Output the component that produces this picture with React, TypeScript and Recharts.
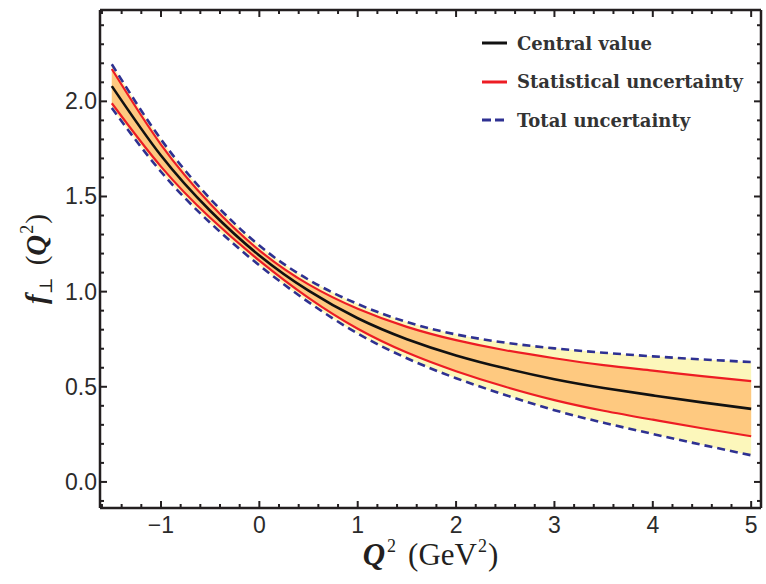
import { ComposedChart, Area, Line, XAxis, YAxis, Legend } from 'recharts'

// f_perp(Q^2) with statistical and total uncertainty bands
const q2 = [-1.5, -1.0, -0.5, 0, 0.5, 1, 1.5, 2, 2.5, 3, 3.5, 4, 4.5, 5]
const central = [2.08, 1.715, 1.425, 1.19, 1.005, 0.86, 0.75, 0.665, 0.597, 0.54, 0.494, 0.455, 0.418, 0.384]
const statLow = [1.99, 1.657, 1.388, 1.163, 0.967, 0.805, 0.68, 0.582, 0.5, 0.43, 0.374, 0.327, 0.282, 0.24]
const statHigh = [2.17, 1.773, 1.462, 1.217, 1.038, 0.91, 0.815, 0.745, 0.692, 0.65, 0.614, 0.585, 0.556, 0.53]
const totalLow = [1.965, 1.63, 1.362, 1.138, 0.945, 0.78, 0.65, 0.545, 0.457, 0.377, 0.311, 0.252, 0.195, 0.14]
const totalHigh = [2.195, 1.8, 1.488, 1.242, 1.063, 0.935, 0.84, 0.775, 0.732, 0.702, 0.679, 0.66, 0.644, 0.63]

const xTicks = Array.from({ length: 34 }, (_, i) => +(-1.6 + 0.2 * i).toFixed(1))
const yTicks = Array.from({ length: 26 }, (_, i) => +(-0.1 + 0.1 * i).toFixed(1))

const data = q2.map((x, i) => ({
  x,
  central: central[i],
  statLow: statLow[i],
  statHigh: statHigh[i],
  totalLow: totalLow[i],
  totalHigh: totalHigh[i],
  stat: [statLow[i], statHigh[i]],
  total: [totalLow[i], totalHigh[i]],
}))

const INK = '#231f20'
const RED = '#ed1c24'
const BLUE = '#2e3192'
const ORANGE = '#fec980'
const YELLOW = '#fcf7bb'
const TICK_FONT = '"Liberation Sans", Arial, sans-serif'
const SERIF = '"Liberation Serif", "DejaVu Serif", serif'

const near = (v: number, step: number) => Math.abs(v / step - Math.round(v / step)) < 1e-6
const fmtX = (v: number) => (v < 0 ? '\u2212' + Math.abs(v) : String(v))

// ticks are drawn inward; labels only on major ticks
const BottomTick = ({ x, y, payload }: any) => {
  const major = near(payload.value, 1)
  return (
    <g>
      <line x1={x} x2={x} y1={y} y2={y - (major ? 7 : 4)} stroke={INK} strokeWidth={2} />
      {major && (
        <text x={x} y={y + 25} textAnchor="middle" fontSize={23} fontFamily={TICK_FONT} fill="#2b2b2b">
          {fmtX(payload.value)}
        </text>
      )}
    </g>
  )
}

const TopTick = ({ x, y, payload }: any) => (
  <line x1={x} x2={x} y1={y} y2={y + (near(payload.value, 1) ? 7 : 4)} stroke={INK} strokeWidth={2} />
)

const LeftTick = ({ x, y, payload }: any) => {
  const major = near(payload.value, 0.5)
  return (
    <g>
      <line x1={x} x2={x + (major ? 7 : 4)} y1={y} y2={y} stroke={INK} strokeWidth={2} />
      {major && (
        <text x={x - 3} y={y + 8} textAnchor="end" fontSize={23} fontFamily={TICK_FONT} fill="#2b2b2b">
          {payload.value.toFixed(1)}
        </text>
      )}
    </g>
  )
}

const RightTick = ({ x, y, payload }: any) => (
  <line x1={x} x2={x - (near(payload.value, 0.5) ? 7 : 4)} y1={y} y2={y} stroke={INK} strokeWidth={2} />
)

const XTitle = ({ viewBox }: any) => {
  const cx = viewBox.x + viewBox.width / 2
  return (
    <text x={cx} y={viewBox.y + 57} textAnchor="middle" fontSize={31} fontFamily={SERIF} fill={INK}>
      <tspan fontStyle="italic" fontWeight="bold">Q</tspan>
      <tspan fontSize={18} dy={-13} dx={2}>2</tspan>
      <tspan dy={13} dx={12}>(GeV</tspan>
      <tspan fontSize={18} dy={-13} dx={1}>2</tspan>
      <tspan dy={13} dx={1}>)</tspan>
    </text>
  )
}

const YTitle = ({ viewBox }: any) => {
  const cy = viewBox.y + viewBox.height / 2
  const cx = 46
  return (
    <text x={cx} y={cy} transform={`rotate(-90 ${cx} ${cy})`} textAnchor="middle" fontSize={29} fontFamily={SERIF} fill={INK}>
      <tspan fontStyle="italic" fontWeight="bold">f</tspan>
      <tspan fontSize={18} dy={6}>⊥</tspan>
      <tspan dy={-6} dx={12}>(</tspan>
      <tspan fontStyle="italic" fontWeight="bold">Q</tspan>
      <tspan fontSize={18} dy={-13} dx={1}>2</tspan>
      <tspan dy={13} dx={1}>)</tspan>
    </text>
  )
}

const legendItems = [
  { name: 'Central value', color: '#111', dash: undefined },
  { name: 'Statistical uncertainty', color: RED, dash: undefined },
  { name: 'Total uncertainty', color: BLUE, dash: '9 4' },
]

const LegendBox = () => (
  <div style={{ fontFamily: '"DejaVu Serif", serif', fontWeight: 'bold', fontSize: 18, color: '#333', whiteSpace: 'nowrap' }}>
    {legendItems.map(it => (
      <div key={it.name} style={{ display: 'flex', alignItems: 'center', height: 38.5 }}>
        <svg width={34} height={6} style={{ marginRight: 1 }}>
          <line x1={0} x2={25} y1={3} y2={3} stroke={it.color} strokeWidth={3} strokeDasharray={it.dash} />
        </svg>
        <span>{it.name}</span>
      </div>
    ))}
  </div>
)

export default function App() {
  return (
    <div>
      <style>{'body{margin:0;overflow:hidden;background:#fff}'}</style>
      <ComposedChart width={766} height={584} data={data} margin={{ top: 9, right: 4, bottom: 16, left: 10 }}>
        <XAxis
          dataKey="x" type="number" xAxisId="b" orientation="bottom" height={60}
          domain={[-1.62, 5.1]} allowDataOverflow ticks={xTicks} interval={0}
          tickSize={0} tickMargin={0} tickLine={false} tick={<BottomTick />}
          axisLine={{ stroke: INK, strokeWidth: 2.5 }}
          label={<XTitle />}
        />
        <XAxis
          dataKey="x" type="number" xAxisId="t" orientation="top" height={1}
          domain={[-1.62, 5.1]} allowDataOverflow ticks={xTicks} interval={0}
          tickSize={0} tickMargin={0} tickLine={false} tick={<TopTick />}
          axisLine={{ stroke: INK, strokeWidth: 2.5 }}
        />
        <YAxis
          type="number" yAxisId="l" orientation="left" width={90}
          domain={[-0.137, 2.48]} allowDataOverflow ticks={yTicks} interval={0}
          tickSize={0} tickMargin={0} tickLine={false} tick={<LeftTick />}
          axisLine={{ stroke: INK, strokeWidth: 2.5 }}
          label={<YTitle />}
        />
        <YAxis
          type="number" yAxisId="r" orientation="right" width={1}
          domain={[-0.137, 2.48]} allowDataOverflow ticks={yTicks} interval={0}
          tickSize={0} tickMargin={0} tickLine={false} tick={<RightTick />}
          axisLine={{ stroke: INK, strokeWidth: 2.5 }}
        />
        <Legend
          verticalAlign="middle" align="center" layout="horizontal"
          wrapperStyle={{ left: 482, top: 24, width: 280 }}
          content={<LegendBox />}
        />
        <Area xAxisId="b" yAxisId="l" dataKey="total" type="natural" stroke="none" fill={YELLOW} fillOpacity={1} isAnimationActive={false} />
        <Area xAxisId="b" yAxisId="l" dataKey="stat" type="natural" stroke="none" fill={ORANGE} fillOpacity={1} isAnimationActive={false} />
        <Line xAxisId="b" yAxisId="l" dataKey="statHigh" type="natural" stroke={RED} strokeWidth={2.2} dot={false} isAnimationActive={false} />
        <Line xAxisId="b" yAxisId="l" dataKey="statLow" type="natural" stroke={RED} strokeWidth={2.2} dot={false} isAnimationActive={false} />
        <Line xAxisId="b" yAxisId="l" dataKey="totalHigh" type="natural" stroke={BLUE} strokeWidth={2.6} strokeDasharray="8 5" dot={false} isAnimationActive={false} />
        <Line xAxisId="b" yAxisId="l" dataKey="totalLow" type="natural" stroke={BLUE} strokeWidth={2.6} strokeDasharray="8 5" dot={false} isAnimationActive={false} />
        <Line xAxisId="b" yAxisId="l" dataKey="central" type="natural" stroke="#111" strokeWidth={2.6} dot={false} isAnimationActive={false} />
      </ComposedChart>
    </div>
  )
}
